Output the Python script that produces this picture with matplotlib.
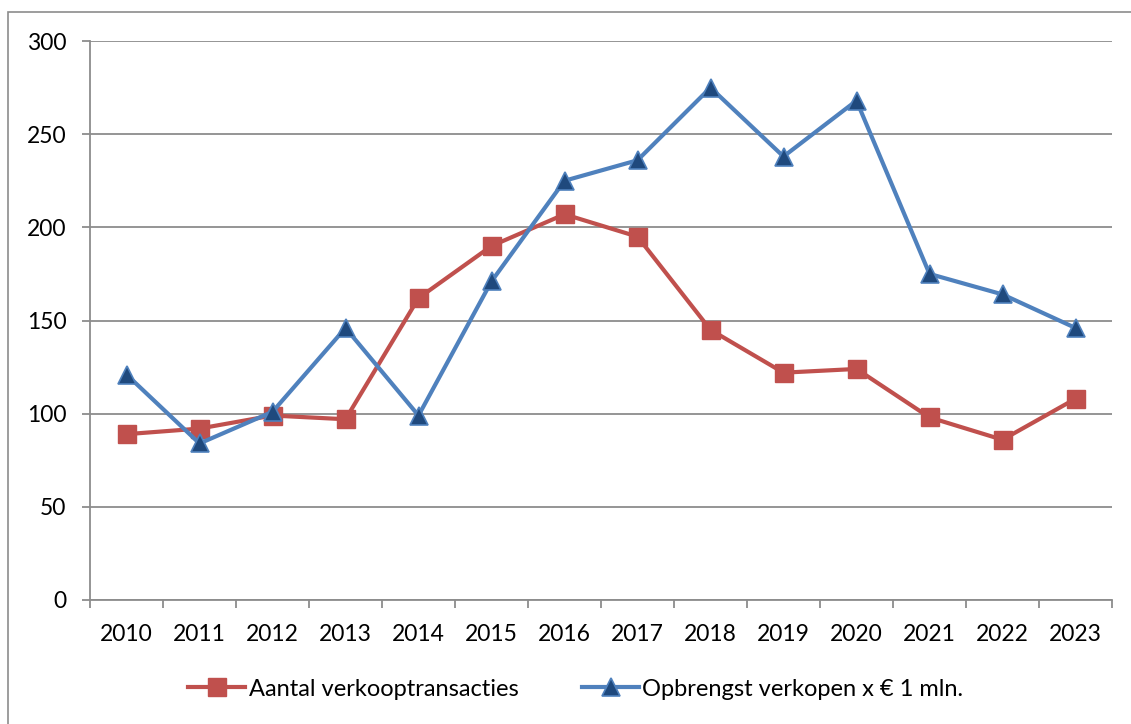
import matplotlib.pyplot as plt
import matplotlib.patches as mpatches

years = ["2010", "2011", "2012", "2013", "2014", "2015", "2016",
         "2017", "2018", "2019", "2020", "2021", "2022", "2023"]
aantal = [89, 92, 99, 97, 162, 190, 207, 195, 145, 122, 124, 98, 86, 108]
opbrengst = [121, 84, 101, 146, 99, 171, 225, 236, 275, 238, 268, 175, 164, 146]

plt.rcParams['font.family'] = ['Lato', 'DejaVu Sans']

W, H = 1131, 724
fig = plt.figure(figsize=(W / 100, H / 100), dpi=100)
ax = fig.add_axes([90 / W, 1 - 600 / H, (1112 - 90) / W, (600 - 41) / H])

# outer chart border (right/bottom cut off in reference)
border = mpatches.Rectangle((8 / W, -0.05), 1.2, 1 - 12 / H + 0.05,
                            transform=fig.transFigure, fill=False,
                            edgecolor='#8c8c8c', linewidth=1.2, zorder=0)
fig.patches.append(border)

x = list(range(len(years)))
red = '#C0504D'
blue = '#4F81BD'
l1, = ax.plot(x, aantal, color=red, linewidth=3.0, marker='s', markersize=12.5,
              markerfacecolor=red, markeredgecolor=red, zorder=3,
              label='Aantal verkooptransacties')
l2, = ax.plot(x, opbrengst, color=blue, linewidth=3.0, marker='^', markersize=13.5,
              markerfacecolor='#1F497D', markeredgecolor=blue, markeredgewidth=1.2,
              zorder=4, label='Opbrengst verkopen x € 1 mln.')

ax.set_xlim(-0.5, len(years) - 0.5)
ax.set_ylim(0, 300)
ax.set_yticks(range(0, 301, 50))
ax.yaxis.grid(True, color='#8c8c8c', linewidth=1.3)
ax.set_axisbelow(True)

ax.set_xticks([i - 0.5 for i in range(len(years) + 1)], minor=False)
ax.set_xticklabels([])
ax.set_xticks(x, minor=True)
ax.set_xticklabels(years, minor=True)
ax.tick_params(axis='x', which='major', length=6, color='#8c8c8c', width=1.3, direction='out')
ax.tick_params(axis='x', which='minor', length=0, labelsize=16.5, pad=17)
ax.tick_params(axis='y', length=6, color='#8c8c8c', width=1.3, labelsize=16.5, pad=11)

for s in ['top', 'right']:
    ax.spines[s].set_visible(False)
for s in ['left', 'bottom']:
    ax.spines[s].set_color('#8c8c8c')
    ax.spines[s].set_linewidth(1.3)

fig.legend(handles=[l1, l2], loc='center', bbox_to_anchor=(576 / W, 1 - 689 / H),
           ncol=2, frameon=False, fontsize=17, handlelength=2.4,
           handletextpad=0.15, columnspacing=2.7, markerscale=1.0)

fig.savefig('out.png', dpi=100)
